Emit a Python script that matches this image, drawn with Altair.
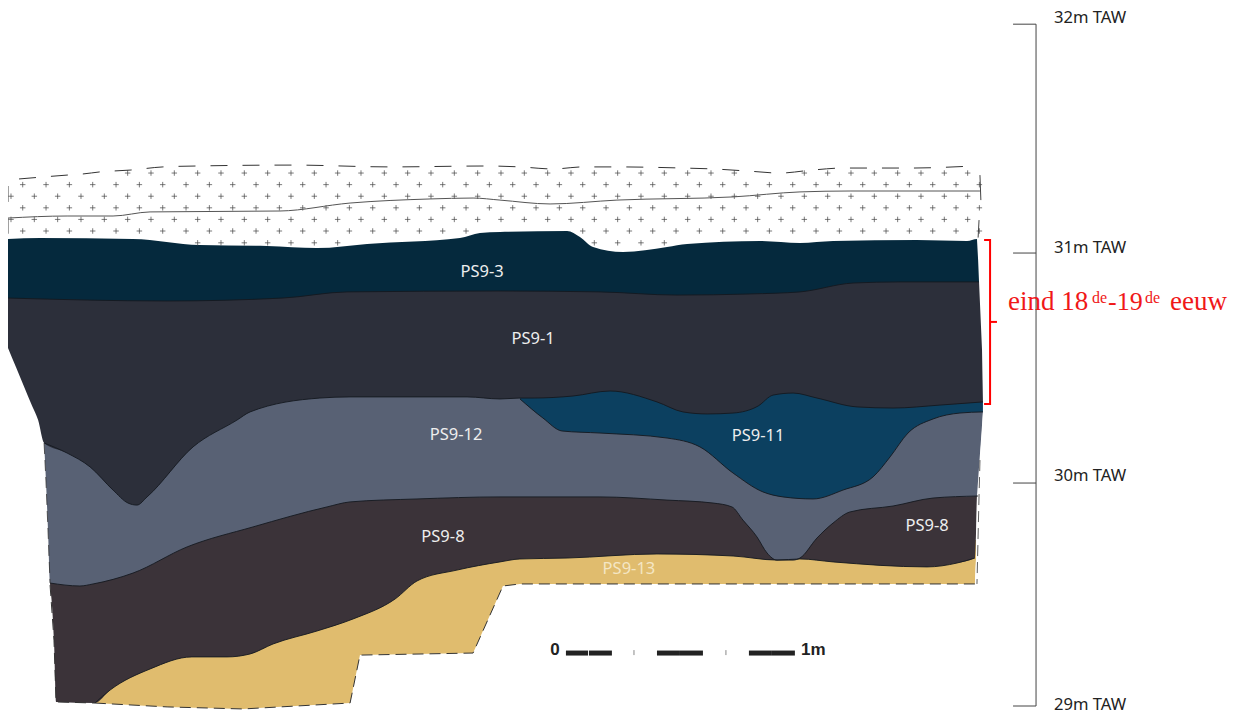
import altair as alt
import numpy as np
import pandas as pd

# Section: x in metres along the profile, z in metres TAW
top_x = [.048,.257,.326,.400,.531,.674,.822,1.240,1.662,2.084,2.227,2.371,2.501,2.649,2.936,3.067,3.215,3.358,3.497,3.632,3.924,4.198]
top_z = [31.319,31.336,31.341,31.350,31.358,31.372,31.376,31.380,31.372,31.376,31.372,31.363,31.372,31.372,31.367,31.363,31.354,31.345,31.358,31.367,31.367,31.376]
mid_x = [0,.257,.457,.618,1.183,1.488,1.836,2.023,2.140,2.358,2.649,3.154,3.445,3.663,4.228]
mid_z = [31.147,31.156,31.156,31.174,31.178,31.213,31.231,31.235,31.226,31.209,31.226,31.240,31.262,31.266,31.266]
surf_x = [0,.139,.544,.835,1.127,1.344,1.562,1.966,2.053,2.140,2.432,2.488,2.545,2.675,2.867,2.954,3.271,3.445,3.589,3.954,4.172,4.215,4.250]
surf_z = [31.055,31.059,31.055,31.028,31.024,31.015,31.033,31.059,31.081,31.086,31.090,31.064,31.020,30.998,31.020,31.033,31.046,31.037,31.046,31.050,31.046,31.055,31.055]
ps3_x = [0,.692,1.196,1.475,2.140,2.575,2.910,3.228,3.445,3.676,3.880,4.224]
ps3_z = [30.795,30.782,30.795,30.822,30.826,30.822,30.808,30.813,30.822,30.861,30.866,30.866]
ps1_x = [0,.035,.070,.105,.131,.157,.257,.357,.457,.522,.561,.605,.805,.996,1.053,1.357,1.488,1.997,2.140,2.227,2.284,2.458,2.619,2.823,2.936,3.041,3.154,3.263,3.328,3.415,3.519,3.693,3.850,4.054,4.241]
ps1_z = [30.575,30.490,30.405,30.320,30.258,30.157,30.113,30.052,29.950,29.893,29.884,29.920,30.140,30.258,30.294,30.355,30.360,30.360,30.351,30.355,30.355,30.364,30.386,30.338,30.294,30.285,30.289,30.320,30.368,30.377,30.355,30.316,30.311,30.324,30.338]
ps12_left_x = [.157,.165,.174]
ps12_left_z = [30.157,29.994,29.774]
ps12_x = [.183,.313,.370,.544,.779,1.066,1.388,1.488,1.779,2.140,2.575,2.867,3.067,3.149,3.197,3.258,3.302,3.345,3.415,3.445,3.519,3.589,3.663,3.850,4.024,4.220]
ps12_z = [29.541,29.528,29.537,29.585,29.700,29.788,29.876,29.898,29.911,29.920,29.920,29.906,29.893,29.876,29.818,29.744,29.673,29.642,29.642,29.651,29.739,29.805,29.854,29.880,29.915,29.924]
ps12_edge_x = [4.228,4.237,4.241]
ps12_edge_z = [30.082,30.214,30.294]
ps11_x = [2.227,2.327,2.410,2.575,2.867,3.010,3.154,3.284,3.371,3.502,3.632,3.763,3.837,3.915,4.024,4.141,4.241]
ps11_z = [30.351,30.267,30.210,30.201,30.179,30.140,30.025,29.942,29.920,29.911,29.950,30.008,30.096,30.201,30.263,30.289,30.294]
ps8_left_x = [.183,.200,.209,.378]
ps8_left_z = [29.532,29.290,29.018,29.013]
ps8_x = [.378,.444,.618,.800,.953,1.053,1.153,1.344,1.501,1.684,1.779,1.953,2.140,2.227,2.432,2.823,3.154,3.345,3.445,3.589,3.998,4.128,4.206]
ps8_z = [29.013,29.070,29.163,29.216,29.216,29.229,29.273,29.330,29.383,29.471,29.550,29.598,29.634,29.647,29.651,29.669,29.660,29.642,29.647,29.634,29.612,29.629,29.651]
ps8_edge_x = [4.215]
ps8_edge_z = [29.924]
ps13_x = [.378,.692,1.022,1.488,1.531,2.023,2.153,2.227,4.206,4.211]
ps13_z = [29.013,28.996,28.987,29.013,29.224,29.233,29.528,29.537,29.537,29.651]
# outer right edge of the section, bottom to top
edge_z = [29.537,29.651,29.924,30.294,30.338,30.566,30.866,30.962,31.055]
edge_x = [4.206,4.211,4.215,4.241,4.241,4.237,4.224,4.220,4.215]

cross_rows = [31.345,31.294,31.243,31.192,31.141,31.090,31.038]
cross_starts = [.013,.064,.013,.064,.013,.064,.013]
CROSS_STEP = .1015

label_names = ["PS9-3","PS9-1","PS9-12","PS9-11","PS9-8","PS9-8","PS9-13"]
label_x = [2.062,2.284,1.949,3.263,1.892,3.998,2.701]
label_z = [30.910,30.615,30.193,30.188,29.744,29.792,29.603]

taw_levels = [32.0,30.993,29.981,29.0]
taw_text = ["32m TAW","31m TAW","30m TAW","29m TAW"]
taw_text_z = [32.027,31.015,30.012,29.004]

bar_start = [2.427,2.527,2.823,2.923,3.223,3.323]
bar_end = [2.523,2.627,2.923,3.023,3.323,3.423]
bar_ticks = [2.723,3.123]

xs = alt.Scale(domain=[0,5.3418], nice=False, zero=False)
ys = alt.Scale(domain=[28.9824,32.0712], nice=False, zero=False)
X = lambda f: alt.X(f, type="quantitative", scale=xs, axis=None)
Y = lambda f: alt.Y(f, type="quantitative", scale=ys, axis=None)


def fill(x, z, cap, colour, curve="monotone"):
    d = pd.DataFrame({"x": x, "z": z, "cap": cap})
    return alt.Chart(d).mark_area(color=colour, opacity=1, interpolate=curve).encode(
        x=X("x"), y=Y("z"), y2="cap:Q")


def path(x, z, colour="#14181f", width=0.9, dash=None, curve="linear"):
    d = pd.DataFrame({"x": x, "z": z, "i": range(len(x))})
    kw = {"strokeDash": dash} if dash else {}
    return alt.Chart(d).mark_line(color=colour, strokeWidth=width, interpolate=curve, **kw).encode(
        x=X("x"), y=Y("z"), order=alt.Order("i:Q"))


def words(text, x, z, size, colour, font, align="left", weight="normal", baseline="alphabetic"):
    d = pd.DataFrame({"t": text, "x": x, "z": z})
    return alt.Chart(d).mark_text(fontSize=size, color=colour, font=font, align=align,
                                  fontWeight=weight, baseline=baseline).encode(
        x=X("x"), y=Y("z"), text="t:N")


cx, cz = [], []
for row, start in zip(cross_rows, cross_starts):
    for px in np.arange(start, 4.23, CROSS_STEP):
        upper = np.interp(px, top_x, top_z)
        lower = np.interp(px, surf_x, surf_z)
        if lower + .008 < row < upper - .008:
            cx.append(float(px))
            cz.append(row)
crosses = alt.Chart(pd.DataFrame({"x": cx, "z": cz})).mark_point(
    shape="M-1,0L1,0M0,-1L0,1", size=30, filled=False, color="#444444", strokeWidth=.7, opacity=1
).encode(x=X("x"), y=Y("z"))

# white strip that trims the fills along the section's right edge
edge_mask = alt.Chart(pd.DataFrame({"x": edge_x, "z": edge_z, "x2": [4.30] * len(edge_x)})).mark_area(
    color="#ffffff", orient="horizontal", opacity=1
).encode(x=X("x"), x2="x2:Q", y=Y("z"))

layers = [
    fill(ps13_x, ps13_z, 29.73, "#e0bc6e", "linear"),
    fill(ps8_left_x + ps8_x[1:] + ps8_edge_x, ps8_left_z + ps8_z[1:] + ps8_edge_z, 30.038, "#3b3339"),
    fill(ps12_left_x + ps12_x + ps12_edge_x, ps12_left_z + ps12_z + ps12_edge_z, 30.434, "#586174"),
    fill(ps11_x, ps11_z, 30.434, "#0c4060"),
    fill(ps1_x, ps1_z, 30.90, "#2c2f3a"),
    fill(ps3_x, ps3_z, 31.12, "#05293d"),
    fill(surf_x, surf_z, 31.42, "#ffffff"),
    edge_mask,
    crosses,
    path(ps3_x, ps3_z, curve="monotone"),
    path(ps1_x[5:], ps1_z[5:], curve="monotone"),
    path(ps12_x, ps12_z, curve="monotone"),
    path(ps11_x, ps11_z, curve="monotone"),
    path(ps8_x, ps8_z, curve="monotone"),
    path(top_x, top_z, "#333333", 1, [17, 15], "monotone"),
    path(mid_x, mid_z, "#555555", 1, curve="monotone"),
    path(ps13_x[:-1], ps13_z[:-1], "#333333", 1, [11, 6]),
    path(ps8_left_x, ps8_left_z, "#333333", 1, [11, 6]),
    path(ps12_left_x + ps12_x[:1], ps12_left_z + ps12_z[:1], "#333333", .8, [11, 6]),
    path([0, 0], [31.288, 31.218], "#444444", 1),
    path([0, 0], [31.146, 31.078], "#444444", 1),
    path([4.228, 4.232], [31.336, 31.226], "#444444", 1),
    path([4.224, 4.220], [31.138, 31.061], "#444444", 1),
    path([4.228, 4.224, 4.215], [30.082, 29.924, 29.537], "#333333", .8, [11, 6]),
]

for name_x, name_z, name in zip(label_x, label_z, label_names):
    colour = "#f4e6c4" if name == "PS9-13" else "#eeeeee"
    layers.append(words([name], [name_x], [name_z], 16.5, colour, "Noto Sans", "center", baseline="middle"))

# elevation scale
layers.append(path([4.472, 4.472], [taw_levels[0], taw_levels[-1]], "#444444", 1))
for lvl in taw_levels:
    layers.append(path([4.372, 4.472], [lvl, lvl], "#444444", 1))
layers.append(words(taw_text, [4.550] * 4, taw_text_z, 16.6, "#222222", "Noto Sans", baseline="middle"))

# bar scale
bars = pd.DataFrame({"x": bar_start, "x2": bar_end, "z": [29.233] * 6})
layers.append(alt.Chart(bars).mark_rule(color="#222222", strokeWidth=5).encode(x=X("x"), x2="x2:Q", y=Y("z")))
ticks = pd.DataFrame({"x": bar_ticks, "z": [29.224, 29.224], "z2": [29.246, 29.246]})
layers.append(alt.Chart(ticks).mark_rule(color="#888888", strokeWidth=1).encode(x=X("x"), y=Y("z"), y2="z2:Q"))
layers.append(words(["0"], [2.379], [29.246], 17, "#222222", "Liberation Sans", "center", "bold", "middle"))
layers.append(words(["1m"], [3.450], [29.246], 17, "#222222", "Liberation Sans", "left", "bold", "middle"))

# red bracket and period note
layers.append(path([4.246, 4.272, 4.272, 4.246], [31.050, 31.050, 30.329, 30.329], "#ff0000", 2))
layers.append(path([4.272, 4.302], [30.690, 30.690], "#ff0000", 2))
layers.append(words(["eind 18"], [4.350], [30.742], 27, "#f01818", "Liberation Serif"))
layers.append(words(["de"], [4.715], [30.773], 16, "#f01818", "Liberation Serif"))
layers.append(words(["-19"], [4.785], [30.742], 26, "#f01818", "Liberation Serif"))
layers.append(words(["de"], [4.946], [30.773], 16, "#f01818", "Liberation Serif"))
layers.append(words(["eeuw"], [5.055], [30.742], 27, "#f01818", "Liberation Serif"))

chart = alt.layer(*layers).properties(
    width=1228, height=702, padding=0, autosize=alt.AutoSizeParams(type="none"), background="#ffffff"
).configure_view(stroke=None)

chart.save("out.html", embed_options={"renderer": "svg", "actions": False})
